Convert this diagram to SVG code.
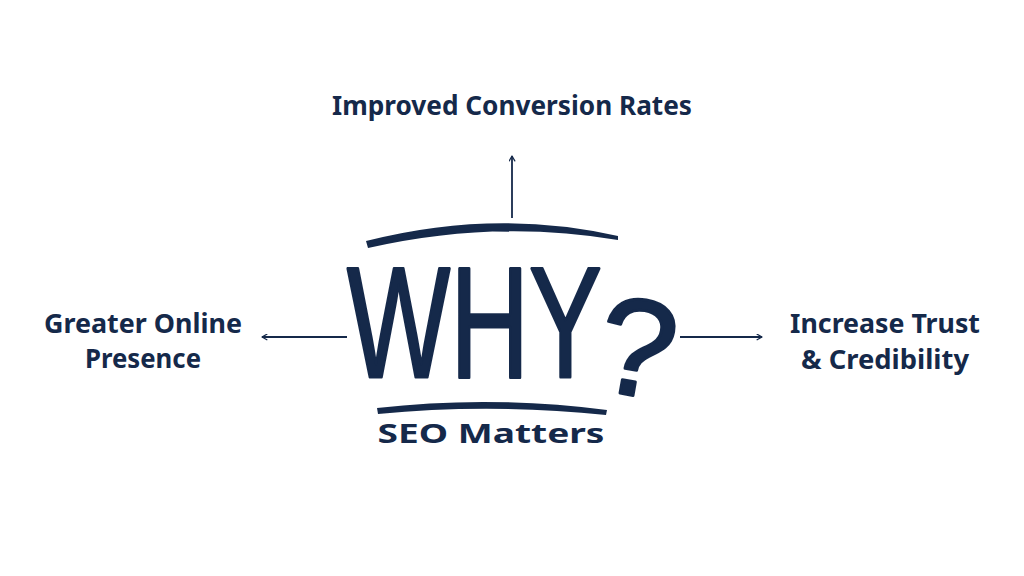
<svg xmlns="http://www.w3.org/2000/svg" width="1024" height="576" viewBox="0 0 1024 576">
<defs>
<style>
.lbl{font-family:"Noto Sans","Lato",sans-serif;font-weight:700;fill:#15294a;font-size:26px}
.why{font-family:"Liberation Sans","Arial",sans-serif;font-weight:400;fill:#15294a;stroke:#15294a;stroke-width:3;stroke-linejoin:round}
.conn{stroke:#15294a;stroke-width:1.8;fill:none}
</style>
<marker id="ah" viewBox="0 0 10 10" refX="8" refY="5" markerWidth="7" markerHeight="7" orient="auto" markerUnits="userSpaceOnUse">
<path d="M1,1 L8,5 L1,9" fill="none" stroke="#15294a" stroke-width="1.8" stroke-linecap="round" stroke-linejoin="round"/>
</marker>
</defs>
<rect width="1024" height="576" fill="#ffffff"/>
<g id="center">
<path d="M366,241 Q495,208 618,236 L618,240 Q495,219 368,248 Z" fill="#15294a"/>
<text class="why" x="347" y="377" font-size="158" textLength="255" lengthAdjust="spacingAndGlyphs">WHY</text>
<text class="why" x="0" y="0" font-size="138" stroke-width="0" transform="translate(591,388) rotate(10)">?</text>
<path d="M377,408 Q490,395 607,410 L606,415 Q490,403 378,414 Z" fill="#15294a"/>
<text class="lbl" x="491" y="443" font-size="34" text-anchor="middle" textLength="227" lengthAdjust="spacingAndGlyphs">SEO Matters</text>
</g>
<g id="top">
<text class="lbl" x="512" y="115" text-anchor="middle" textLength="360" lengthAdjust="spacingAndGlyphs">Improved Conversion Rates</text>
</g>
<g id="left">
<text class="lbl" x="143" y="333" text-anchor="middle" textLength="198" lengthAdjust="spacingAndGlyphs">Greater Online</text>
<text class="lbl" x="143" y="368" text-anchor="middle" textLength="116" lengthAdjust="spacingAndGlyphs">Presence</text>
</g>
<g id="right">
<text class="lbl" x="885" y="333" text-anchor="middle" textLength="190" lengthAdjust="spacingAndGlyphs">Increase Trust</text>
<text class="lbl" x="885" y="369" text-anchor="middle" textLength="168" lengthAdjust="spacingAndGlyphs">&amp; Credibility</text>
</g>
<g id="connectors">
<line class="conn" x1="512" y1="218" x2="512" y2="156" marker-end="url(#ah)"/>
<line class="conn" x1="347" y1="337" x2="262" y2="337" marker-end="url(#ah)"/>
<line class="conn" x1="680" y1="337" x2="762" y2="337" marker-end="url(#ah)"/>
</g>
</svg>
